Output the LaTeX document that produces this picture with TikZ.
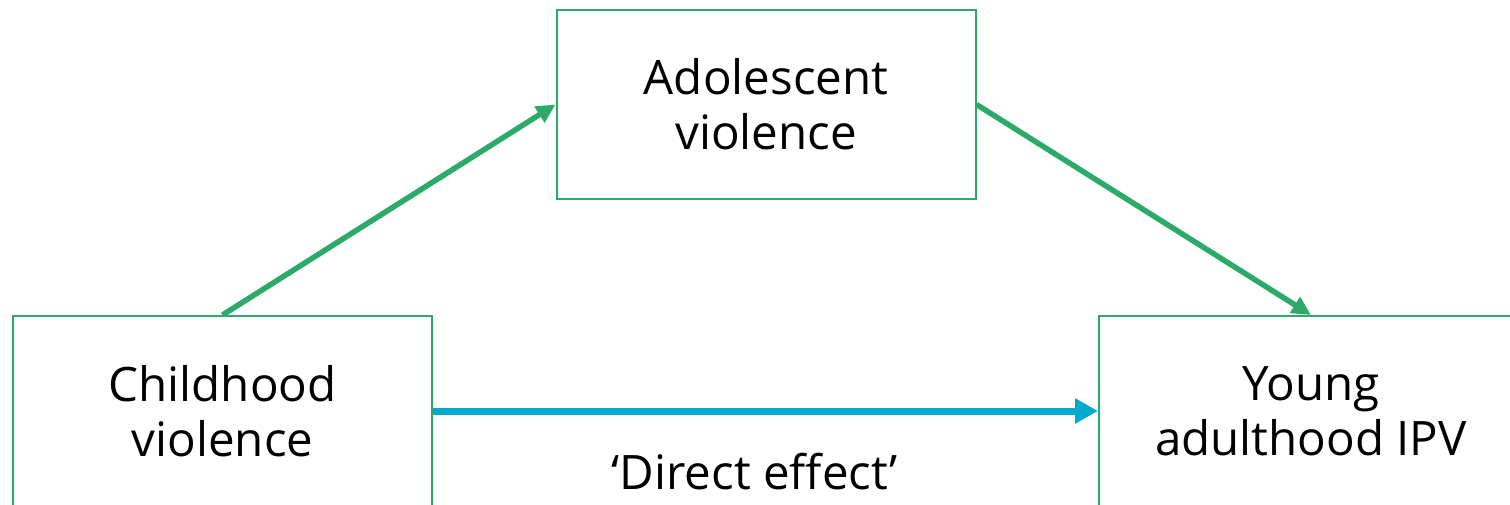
\documentclass[tikz,border=0pt]{standalone}
\usepackage{fontspec}
\setmainfont{Open Sans}
\usetikzlibrary{arrows.meta}
\definecolor{boxgreen}{RGB}{43,170,106}
\definecolor{directblue}{RGB}{0,170,206}
\newcommand{\stagefont}{\fontsize{47.5}{55}\selectfont}
\begin{document}
\begin{tikzpicture}[x=1pt,y=-1pt,
  stage/.style={draw=boxgreen, line width=2pt, fill=white,
    minimum width=419pt, minimum height=190pt, inner sep=0pt,
    align=center, font=\stagefont},
  path arrow/.style={draw=boxgreen, line width=5.5pt,
    -{Triangle[length=19pt,width=18pt]}},
  direct arrow/.style={draw=directblue, line width=7pt,
    -{Triangle[length=23pt,width=24pt]}},
  effect label/.style={font=\stagefont, anchor=base, inner sep=0pt}]
  \useasboundingbox (0,0) rectangle (1510,504);

  % the three stages
  \node[stage, minimum height=189pt] (adol) at (766,104.5) {Adolescent\\violence};
  \node[stage] (child) at (222.5,411) {Childhood\\violence};
  \node[stage, minimum width=424pt] (young) at (1311,411) {Young\\adulthood IPV};

  % mediated path
  \draw[path arrow] (child.north) -- (adol.west);
  \draw[path arrow] (adol.east) -- (young.north);

  % direct path
  \draw[direct arrow] (child.east) -- (young.west)
    node[effect label, midway, xshift=-11pt, yshift=-78pt] (direct) {‘Direct effect’};
\end{tikzpicture}
\end{document}
